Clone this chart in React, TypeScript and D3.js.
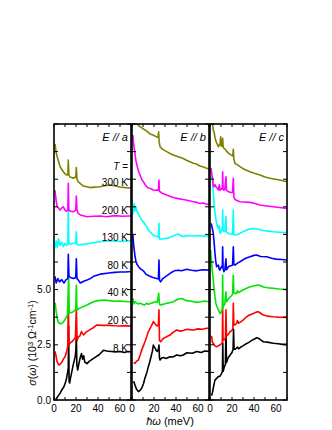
import React from 'react';
import * as d3 from 'd3';

// sigma(omega) in 10^3 Ohm^-1 cm^-1 vs energy (meV), curves as drawn (offset included)
const temps = ['8 K', '20 K', '40 K', '80 K', '130 K', '200 K', '300 K'];
const colors = ['#000000', '#ff0000', '#00e600', '#0000ff', '#00ffff', '#ff00ff', '#808000'];
const panels = ['a', 'b', 'c'];
const xTickLabels = [0, 20, 40, 60];
const yTickLabels = ['0.0', '2.5', '5.0'];

const a8 = [[1.5,0.05],[2.4,0.08],[4,0.2],[5.5,0.3],[7,0.45],[9,0.6],[10.5,0.8],[11.5,1.0],[12.5,1.3],[13,1.45],[13.3,3.35],[13.7,0.85],[14.2,0.77],[15.2,1.05],[16.5,1.35],[17.5,1.6],[18.5,1.8],[19.4,2.0],[19.9,2.3],[20.3,3.0],[20.8,1.6],[21.5,1.36],[23,1.74],[24,1.95],[25,2.1],[26,1.85],[27,2.0],[28,1.72],[30,1.65],[32,1.75],[35,1.85],[38,1.95],[41,2.05],[43,2.15],[45,2.25],[48,2.22],[52,2.2],[56,2.18],[60,2.2],[64,2.15],[67,2.2],[70,2.18]];
const a20 = [[1,2.2],[1.8,2.0],[2.5,1.8],[3.5,1.65],[4.5,1.58],[5.5,1.62],[7,1.7],[8.5,1.85],[10,1.96],[11.5,2.2],[12.5,2.4],[13,4.5],[13.6,2.5],[15,2.6],[16.5,2.65],[17.5,2.7],[19.5,2.85],[20.3,4.15],[21,2.7],[22,2.85],[23.5,2.9],[25,3.1],[26,3.0],[27,2.95],[28.5,3.05],[30,3.1],[33,3.2],[35,3.25],[39,3.4],[44,3.38],[50,3.38],[55,3.36],[60,3.35],[65,3.37],[70,3.35]];
const a40 = [[1,4.4],[1.5,4.2],[2,4.0],[3,3.7],[4,3.5],[6,3.45],[8,3.5],[9.5,3.6],[10.6,3.7],[12.3,3.85],[13.3,5.6],[13.9,3.93],[15.5,3.95],[17.5,4.0],[19.8,4.1],[20.3,5.2],[20.9,4.08],[23,4.15],[26.7,4.23],[30,4.3],[33,4.38],[35.8,4.45],[40,4.5],[46,4.53],[50,4.5],[55,4.47],[60,4.48],[65,4.46],[70,4.45]];
const a80 = [[0.9,5.6],[2,5.3],[3.5,5.5],[5,5.35],[7,5.45],[9,5.3],[11,5.45],[12.6,5.5],[13,6.6],[13.6,5.6],[15,5.55],[17.6,5.5],[19.8,5.55],[20.3,6.4],[20.9,5.5],[22,5.43],[24,5.3],[27,5.38],[30,5.43],[33,5.5],[36,5.6],[42,5.7],[50,5.75],[55,5.78],[60,5.8],[65,5.8],[70,5.82]];
const a130 = [[0.9,6.9],[2,7.2],[3,6.9],[4,7.3],[5.5,7.0],[7,7.15],[8.5,6.95],[10,7.1],[11.5,7.0],[12.6,7.05],[13,8.6],[13.5,7.1],[15,7.05],[17.6,7.1],[19.8,7.1],[20.3,7.62],[20.9,7.05],[22,7.02],[26.7,7.05],[32.7,7.1],[41.8,7.17],[48,7.2],[55,7.2],[62,7.18],[67.5,7.2],[70,7.22]];
const a200 = [[0.9,9.5],[2,9.0],[3,8.75],[4.2,8.7],[5.5,8.6],[7,8.7],[8.5,8.75],[10,8.6],[11.5,8.55],[12.6,8.6],[13,9.81],[13.5,8.6],[15,8.55],[17.6,8.53],[19.8,8.6],[20.3,9.24],[20.9,8.6],[22,8.45],[24,8.38],[30,8.3],[36,8.32],[42,8.33],[48,8.3],[55,8.35],[62,8.32],[67.5,8.33],[70,8.33]];
const a300 = [[0.9,11.6],[2,11.2],[3,11.0],[4.2,10.8],[5.5,10.57],[7,10.45],[8.5,10.34],[10,10.25],[11.5,10.19],[12.6,10.2],[13,10.87],[13.5,10.2],[14.5,10.1],[16,10.08],[17.6,10.04],[19.8,10.1],[20.3,10.53],[20.9,10.0],[22,9.89],[24,9.8],[26.7,9.69],[32.7,9.62],[37,9.64],[41.8,9.66],[46,9.7],[51,9.74],[55,9.7],[60,9.65],[65,9.62],[70,9.6]];

const b8 = [[1.5,0.85],[2.7,0.68],[4,0.5],[5.8,0.38],[7.5,0.45],[8.8,0.53],[10.5,0.75],[11.8,1.0],[13.5,1.25],[14.8,1.5],[16,1.7],[17.3,1.96],[18.5,2.2],[19.4,2.49],[20.2,2.4],[21,2.35],[22,2.25],[23,2.2],[24,2.3],[24.5,2.49],[25,1.9],[25.5,1.81],[27,1.9],[28.5,1.93],[31,1.88],[34.5,1.96],[37,1.95],[40.6,2.04],[44,2.0],[46.6,2.04],[50,2.14],[55,2.12],[58.8,2.2],[63,2.15],[66,2.22],[70,2.2]];
const b20 = [[1.5,1.7],[2.7,1.66],[4,1.75],[5.8,1.81],[7.5,2.05],[8.8,2.26],[10.3,2.45],[11.8,2.64],[13.3,2.85],[14.8,3.09],[16,3.2],[17.3,3.32],[18.5,3.45],[19.4,3.55],[20.5,3.48],[21.8,3.4],[23,3.35],[24,3.4],[24.5,4.08],[25,2.7],[26,2.64],[28.5,2.79],[31,2.85],[34.5,2.94],[37,3.05],[40.6,3.17],[44,3.12],[46.6,3.15],[50,3.2],[55.8,3.17],[60,3.22],[64,3.2],[68,3.25],[70,3.25]];
const b40 = [[1,4.6],[1.8,4.35],[2.7,4.45],[4,4.4],[5.5,4.35],[7.3,4.38],[9,4.35],[11,4.3],[13.3,4.38],[15,4.33],[17,4.38],[19.4,4.41],[21,4.45],[23,4.43],[24.3,4.83],[24.8,4.4],[25.5,4.3],[28,4.33],[31.5,4.38],[34,4.4],[37.6,4.45],[41,4.55],[45.2,4.6],[47,4.55],[49.7,4.5],[54,4.47],[58.8,4.42],[63,4.45],[66,4.48],[70,4.45]];
const b80 = [[0.8,7.5],[1.5,7.0],[2.5,6.6],[3.5,6.3],[4.5,6.15],[5.8,6.05],[7.5,5.95],[10.3,5.85],[12.7,5.7],[14.5,5.65],[16.4,5.6],[19,5.55],[22.4,5.5],[24,5.48],[24.5,6.34],[25,5.43],[26,5.35],[28,5.5],[31.5,5.62],[35,5.75],[38.5,5.85],[42,5.88],[45,5.85],[49.7,5.92],[54,5.88],[58.8,5.85],[64,5.9],[70,5.88]];
const b130 = [[0.8,8.4],[1.2,8.6],[2,8.9],[2.7,8.55],[3.5,8.75],[4.2,8.6],[5.5,8.45],[7.3,8.3],[8.8,8.15],[10.3,8.08],[12,7.95],[13.3,7.85],[15,7.7],[16.4,7.62],[18,7.52],[19.4,7.47],[21,7.43],[23,7.4],[24.1,7.38],[24.5,8.0],[24.9,7.3],[25.5,7.28],[28,7.3],[31.5,7.32],[35,7.38],[37.6,7.43],[40,7.48],[42,7.52],[44,7.45],[46.6,7.4],[50,7.45],[55.8,7.43],[60,7.45],[65,7.42],[70,7.43]];
const b200 = [[0.8,12.0],[1.2,11.7],[2,11.4],[2.7,11.17],[3.5,10.85],[4.8,10.57],[6,10.35],[7.3,10.19],[8.8,10.0],[10.3,9.89],[12,9.75],[13.3,9.66],[15,9.6],[16.4,9.59],[18,9.55],[19.4,9.51],[21,9.5],[23,9.51],[24.1,9.5],[24.5,9.96],[24.9,9.45],[25.5,9.43],[28,9.35],[31.5,9.28],[35,9.22],[37.6,9.17],[42,9.12],[46.6,9.08],[50,9.05],[55.8,8.98],[59,8.95],[61.9,8.9],[65,8.92],[68,8.86],[70,8.88]];
const b300 = [[0,12.8],[2,12.7],[4,12.55],[5.5,12.45],[7.3,12.38],[9.5,12.3],[11.8,12.23],[14,12.15],[16.4,12.05],[19,12.0],[21,11.95],[23,11.9],[23.8,11.95],[24.2,12.15],[24.7,11.7],[25.5,11.47],[28,11.35],[31.5,11.25],[35,11.15],[37.6,11.1],[42,11.02],[46.6,10.94],[50,10.85],[55.8,10.72],[58,10.7],[61.9,10.6],[65,10.55],[68,10.49],[70,10.47]];

const c8 = [[1.5,0.2],[2.4,0.38],[3.2,0.6],[4.5,0.9],[6,0.98],[7.6,1.06],[9.1,1.08],[10.6,1.21],[11.3,1.3],[11.6,2.6],[12,1.3],[13,1.5],[14,1.6],[14.5,3.25],[15,1.7],[16,1.85],[17,1.95],[18.5,2.05],[20,2.15],[21,2.3],[21.4,3.2],[21.9,2.3],[23,2.3],[25,2.4],[26,2.32],[28,2.4],[30,2.45],[33,2.55],[35,2.6],[38,2.7],[40,2.75],[42.4,2.82],[44,2.8],[46,2.72],[48.5,2.64],[52,2.62],[57.6,2.57],[62,2.55],[66,2.52],[70,2.52]];
const c20 = [[1,2.9],[1.5,2.87],[2.2,2.6],[3,2.57],[4.5,2.45],[6,2.41],[7.5,2.45],[9.1,2.5],[10.6,2.55],[11.2,2.6],[11.5,4.22],[11.9,2.7],[12.7,2.72],[14,2.8],[14.5,4.08],[15,2.9],[15.8,2.94],[17,3.0],[18.2,3.09],[20,3.15],[20.8,3.25],[21.2,4.38],[21.7,3.4],[22.5,3.4],[24.2,3.47],[25,3.6],[26,3.48],[27.3,3.52],[30,3.62],[33.3,3.77],[36,3.85],[39.4,3.92],[42,3.98],[43.9,4.0],[46,3.93],[48.5,3.85],[52,3.8],[57.6,3.77],[63,3.75],[70,3.74]];
const c40 = [[0.5,6.8],[1,6.5],[1.5,6.2],[2.2,5.8],[3,5.43],[3.8,5.0],[4.5,4.68],[5.5,4.35],[6.5,4.2],[7.6,4.08],[8.5,4.0],[9.1,3.92],[10,3.95],[10.6,4.05],[11.2,4.1],[11.5,5.66],[11.9,4.2],[12.7,4.3],[13.5,4.35],[14.5,4.9],[15,4.45],[17,4.6],[19,4.7],[20.5,4.78],[21.2,5.66],[21.7,4.85],[22.5,4.83],[24.2,4.83],[25,4.95],[26,4.87],[27.3,4.9],[30,4.98],[33.3,5.06],[36,5.12],[39.4,5.16],[43.9,5.21],[46,5.17],[48.5,5.12],[53,5.08],[57.6,5.06],[63,5.03],[70,5.01]];
const c80 = [[1,8.0],[2,7.8],[3,7.55],[3.8,7.1],[4.5,6.64],[5.2,6.3],[6,6.04],[7.6,6.11],[8.5,5.9],[9.1,5.89],[10,6.0],[10.6,6.05],[11.2,6.0],[11.5,6.94],[11.9,5.95],[12.7,5.81],[13.5,5.9],[14.5,6.4],[15,5.9],[17,6.05],[19,6.08],[20.5,6.1],[21.2,6.94],[21.7,6.15],[22.7,6.11],[25,6.2],[27.3,6.26],[30,6.35],[33,6.43],[36.4,6.49],[40,6.55],[42.4,6.57],[46,6.5],[51.5,6.49],[56,6.42],[60,6.38],[65,6.36],[70,6.34]];
const c130 = [[1,10.0],[1.5,10.1],[2.4,9.96],[3,9.4],[3.6,8.9],[4.5,8.5],[5.5,8.15],[6.5,7.9],[7.6,7.77],[8.3,7.9],[9.1,7.55],[10,7.6],[10.6,7.7],[11.2,7.75],[11.5,8.6],[11.9,7.7],[12.7,7.62],[13.5,7.65],[14.5,8.3],[15,7.6],[16.5,7.55],[18.2,7.52],[20.5,7.5],[21.2,8.6],[21.7,7.5],[22.7,7.47],[25,7.5],[27.3,7.55],[30,7.62],[33.3,7.7],[37,7.75],[41,7.77],[45,7.72],[48.5,7.68],[53,7.65],[57.6,7.62],[63,7.6],[70,7.58]];
const c200 = [[1,10.5],[1.5,10.27],[2.4,10.0],[3,9.7],[3.6,9.66],[4.5,9.75],[5.5,9.65],[6.5,9.6],[7.6,9.51],[8.5,9.75],[9.1,9.5],[9.7,9.55],[10.6,9.55],[11.2,9.6],[11.5,10.34],[11.9,9.55],[12.7,9.5],[13.5,9.55],[14.5,10.11],[15,9.5],[17,9.43],[19,9.4],[20.5,9.4],[21.2,10.04],[21.7,9.2],[22.7,9.08],[25,9.02],[27.3,8.98],[31,8.97],[36.4,8.95],[41,8.9],[45.5,8.83],[50,8.8],[57.6,8.75],[63,8.72],[70,8.68]];
const c300 = [[0.5,13],[1.5,12.8],[2.4,12.5],[3,12.2],[3.6,12.15],[4.5,11.9],[5.5,11.7],[6.5,11.6],[7.6,11.47],[8.5,11.55],[9.2,11.6],[9.7,11.92],[10.2,11.5],[11,11.5],[11.5,11.85],[12,11.45],[12.7,11.4],[14,11.35],[15,11.28],[17,11.17],[19,11.1],[20.7,11.05],[21.2,11.35],[21.7,10.9],[22.7,10.72],[25,10.65],[27.3,10.57],[31,10.45],[36.4,10.34],[41,10.26],[45.5,10.19],[50,10.1],[54.5,10.04],[59,10.0],[63.6,9.96],[67,9.92],[70,9.89]];

const seriesA = [a8, a20, a40, a80, a130, a200, a300];
const seriesB = [b8, b20, b40, b80, b130, b200, b300];
const seriesC = [c8, c20, c40, c80, c130, c200, c300];
const allSeries = [seriesA, seriesB, seriesC];

const top = 124;
const bottom = 400;
const panelLeft = [54, 132, 210];
const panelW = 77;
const font = 'Liberation Sans, Arial, sans-serif';

export default function App() {
  const y = d3.scaleLinear().domain([0, 12.5]).range([bottom, top]);
  const yTicks = d3.range(0, 12.51, 1.25);
  const xTicks = d3.range(0, 71, 10);

  return (
    <svg width={332} height={430} style={{ position: 'absolute', left: 0, top: 0, background: '#fff' }}>
      <defs>
        {panelLeft.map((x0, i) => (
          <clipPath id={`clip${i}`} key={i}>
            <rect x={x0} y={top} width={panelW} height={bottom - top} />
          </clipPath>
        ))}
      </defs>
      {panels.map((p, i) => {
        const x0 = panelLeft[i];
        const x = d3.scaleLinear().domain([0, 70]).range([x0, x0 + panelW]);
        const line = d3.line<number[]>().x(d => x(d[0])).y(d => y(d[1]));
        return (
          <g key={p}>
            <g clipPath={`url(#clip${i})`}>
              {allSeries[i].map((s, k) => (
                <path key={k} d={line(s) || ''} fill="none" stroke={colors[k]} strokeWidth={1.6} strokeLinejoin="round" />
              ))}
            </g>
            <rect x={x0} y={top} width={panelW} height={bottom - top} fill="none" stroke="#000" strokeWidth={1.6} />
            {yTicks.map(t => (
              <g key={t}>
                <line x1={x0} x2={x0 + 4} y1={y(t)} y2={y(t)} stroke="#000" strokeWidth={1} />
                <line x1={x0 + panelW - 4} x2={x0 + panelW} y1={y(t)} y2={y(t)} stroke="#000" strokeWidth={1} />
              </g>
            ))}
            {xTicks.map(t => (
              <g key={t}>
                <line x1={x(t)} x2={x(t)} y1={bottom} y2={bottom - 3} stroke="#000" strokeWidth={1} />
                <line x1={x(t)} x2={x(t)} y1={top} y2={top + 3} stroke="#000" strokeWidth={1} />
              </g>
            ))}
            {xTickLabels.map(t => (
              <text key={t} x={x(t)} y={412} fontSize={10} fontFamily={font} textAnchor="middle">{t}</text>
            ))}
            <text x={x0 + panelW - 3} y={141} fontSize={11} fontFamily={font} fontStyle="italic" textAnchor="end">
              {`E // ${p}`}
            </text>
          </g>
        );
      })}
      {yTickLabels.map(t => (
        <text key={t} x={51} y={y(+t) + 3.5} fontSize={10} fontFamily={font} textAnchor="end">{t}</text>
      ))}
      <text x={128} y={170} fontSize={10} fontFamily={font} textAnchor="end">
        <tspan fontStyle="italic">T</tspan> =
      </text>
      {temps.map((t, k) => (
        <text key={t} x={128} y={y(2.35 + 1.25 * k) + 3.5} fontSize={10} fontFamily={font} textAnchor="end">{t}</text>
      ))}
      <text x={170} y={425} fontSize={11} fontFamily={font} textAnchor="middle">
        <tspan fontStyle="italic">ħω</tspan> (meV)
      </text>
      <text transform="translate(36,343) rotate(-90)" fontSize={10.5} fontFamily={font} textAnchor="middle">
        <tspan fontStyle="italic">σ</tspan>(<tspan fontStyle="italic">ω</tspan>) (10<tspan dy={-3.5} fontSize={7.5}>3</tspan>
        <tspan dy={3.5}> Ω</tspan><tspan dy={-3.5} fontSize={7.5}>-1</tspan><tspan dy={3.5}>cm</tspan>
        <tspan dy={-3.5} fontSize={7.5}>-1</tspan><tspan dy={3.5}>)</tspan>
      </text>
    </svg>
  );
}
